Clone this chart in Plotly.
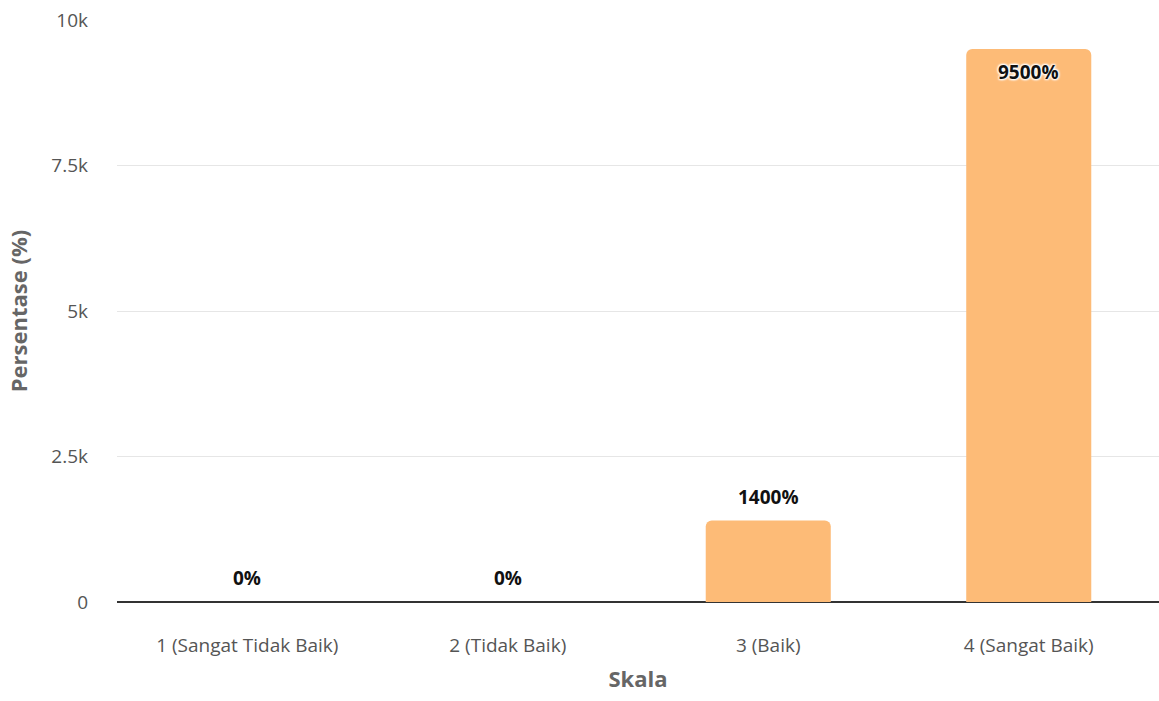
import plotly.graph_objects as go

categories = ["1 (Sangat Tidak Baik)", "2 (Tidak Baik)", "3 (Baik)", "4 (Sangat Baik)"]
values = [0, 0, 1400, 9500]
labels = ["0%", "0%", "1400%", "9500%"]
inside = [False, False, False, True]

fig = go.Figure(go.Bar(
    x=categories, y=values,
    marker=dict(color="#FDBB77", cornerradius=6, line=dict(width=0)),
    hoverinfo="x+y",
))

halo = "1px 1px 2px white, -1px -1px 2px white, 1px -1px 2px white, -1px 1px 2px white"
for c, v, t, ins in zip(categories, values, labels, inside):
    fig.add_annotation(
        x=c, y=v, text=t, showarrow=False, yanchor="middle",
        yshift=-23 if ins else 24,
        font=dict(family="Open Sans", size=19, color="#111", weight="bold",
                  shadow=halo if ins else "none"),
    )

fig.update_layout(
    width=1159, height=701, margin=dict(l=117, r=0, t=20, b=99),
    plot_bgcolor="white", paper_bgcolor="white", bargap=0.52, showlegend=False,
    font=dict(family="Open Sans", color="#555"),
)
fig.update_xaxes(title=dict(text="Skala", font=dict(size=22, color="#666", weight="bold"), standoff=14),
                 tickfont=dict(size=19, color="#555"), showline=False, ticks="", ticklabelstandoff=30)
fig.update_yaxes(title=dict(text="Persentase (%)", font=dict(size=22, color="#666", weight="bold"), standoff=17),
                 range=[0, 10000], tickvals=[0, 2500, 5000, 7500, 10000],
                 ticktext=["0", "2.5k", "5k", "7.5k", "10k"],
                 tickfont=dict(size=19, color="#555"), gridcolor="#e6e6e6", gridwidth=1,
                 zeroline=True, zerolinecolor="#333", zerolinewidth=2, ticklabelstandoff=28)
fig.write_html("out.html")
